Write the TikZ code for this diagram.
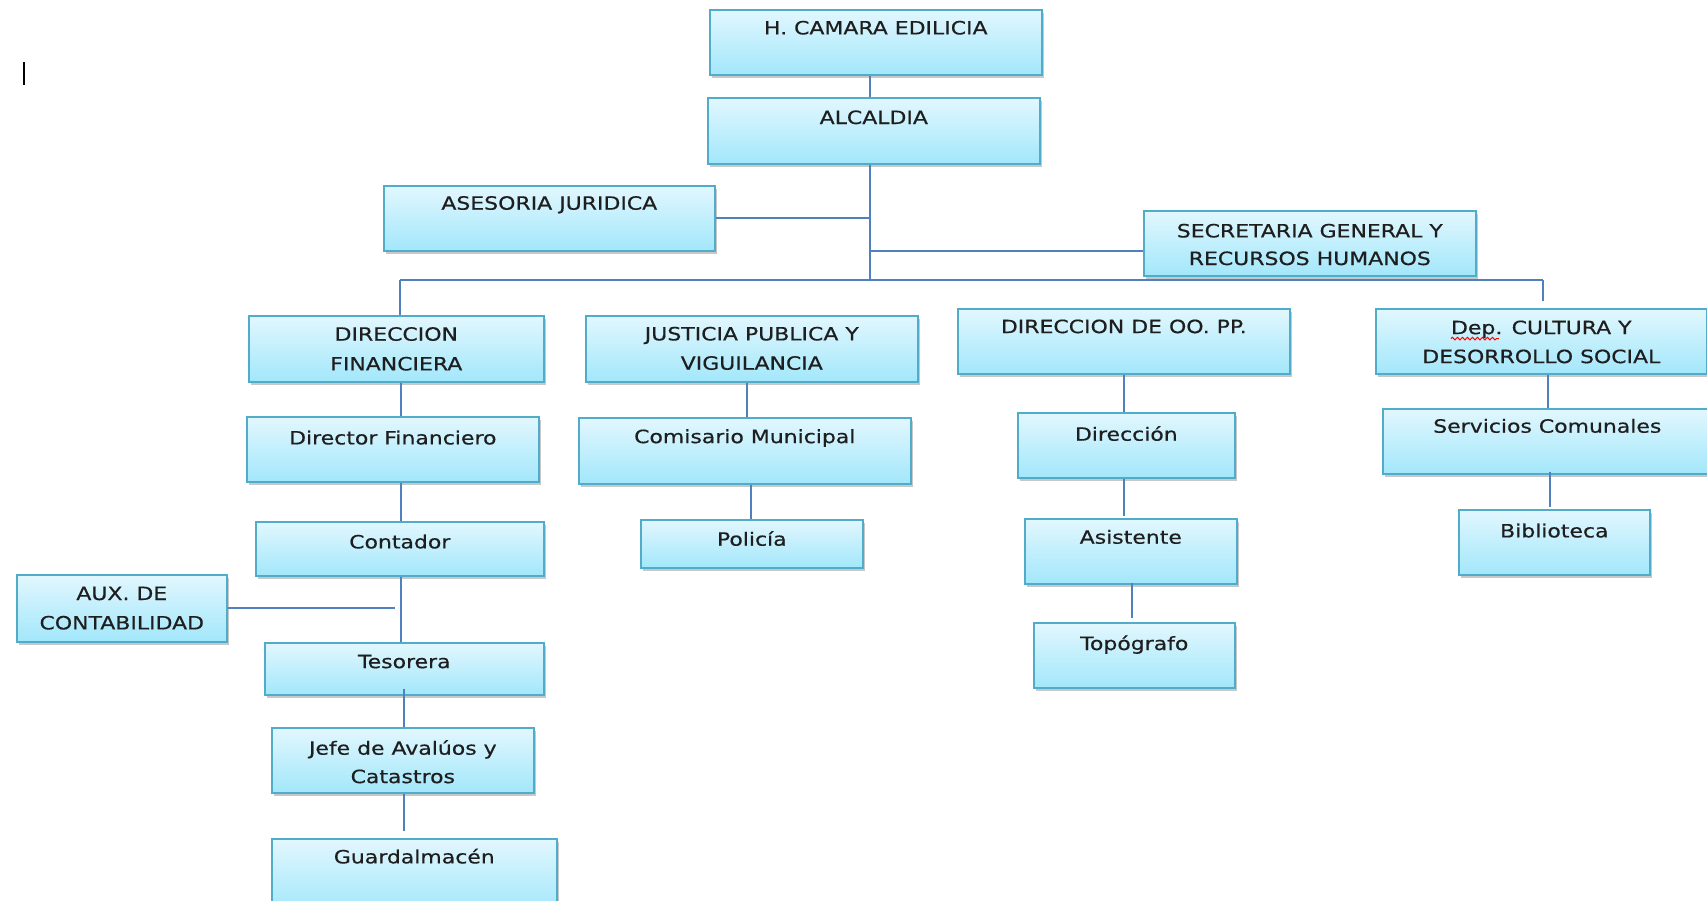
\documentclass[tikz,border=0pt]{standalone}
\usepackage{fontspec}
\setmainfont{DejaVu Sans}[FakeStretch=1.2,FakeBold=0.5]
\usetikzlibrary{shadows,decorations.pathmorphing,calc}
\definecolor{boxtop}{RGB}{226,247,254}
\definecolor{boxbot}{RGB}{162,231,251}
\definecolor{boxline}{RGB}{80,172,200}
\definecolor{conn}{RGB}{79,129,189}
\definecolor{txtc}{RGB}{30,30,30}
\tikzset{
  orgbox/.style={draw=boxline, line width=1.6pt, top color=boxtop, bottom color=boxbot,
    inner sep=0pt, drop shadow={shadow xshift=2pt, shadow yshift=-3pt, opacity=0.3, fill=black!70}},
  lbl/.style={anchor=base, text=txtc, font=\fontsize{18.3}{30}\selectfont, inner sep=0pt},
  link/.style={draw=conn, line width=2pt},
  squig/.style={draw=red, line width=1pt, decorate, decoration={snake, segment length=5pt, amplitude=1.3pt}},
}
% name, x1, y1, x2, y2, baseline offset, text
\newcommand\OB[7]{%
  \node[orgbox, anchor=north west, minimum width={#4-#2}, minimum height={#5-#3}] (#1) at (#2,#3) {};
  \node[lbl] (#1-t) at ([yshift=-#6pt]#1.north) {#7};}
% name, x1, y1, x2, y2, offset1, text1, offset2, text2
\newcommand\OBB[9]{%
  \node[orgbox, anchor=north west, minimum width={#4-#2}, minimum height={#5-#3}] (#1) at (#2,#3) {};
  \node[lbl] (#1-t1) at ([yshift=-#6pt]#1.north) {#7};
  \node[lbl] (#1-t2) at ([yshift=-#8pt]#1.north) {#9};}
\begin{document}
\begin{tikzpicture}[x=1pt,y=-1pt]
\fill[white] (0,0) rectangle (1707,900);
\useasboundingbox (0,0) rectangle (1707,900);

% text cursor mark
\draw[black, line width=2.5pt] (24,62) -- (24,85);

% boxes
\OB{hcam}{709}{9}{1041}{74}{25.4}{H. CAMARA EDILICIA}
\OB{alc}{707}{97}{1039}{163}{27}{ALCALDIA}
\OB{ases}{383}{185}{714}{250}{24.7}{ASESORIA JURIDICA}
\OBB{sec}{1143}{210}{1475}{275}{27.4}{SECRETARIA GENERAL Y}{55}{RECURSOS HUMANOS}
\OBB{dirfin}{248}{315}{543}{381}{25.7}{DIRECCION}{55.4}{FINANCIERA}
\OBB{just}{585}{315}{917}{381}{25.4}{JUSTICIA PUBLICA Y}{54.7}{VIGUILANCIA}
\OB{oopp}{957}{308}{1289}{373}{25.1}{DIRECCION DE OO. PP.}
\OBB{dep}{1375}{308}{1706}{373}{26.1}{Dep. CULTURA Y}{55.1}{DESORROLLO SOCIAL}
\OB{dirfin2}{246}{416}{538}{481}{28.4}{Director Financiero}
\OB{com}{578}{417}{910}{483}{26.1}{Comisario Municipal}
\OB{dirc}{1017}{412}{1234}{477}{28.7}{Dirección}
\OB{serv}{1382}{408}{1711}{473}{24.7}{Servicios Comunales}
\OB{contador}{255}{521}{543}{575}{27.4}{Contador}
\OB{pol}{640}{519}{862}{567}{26.7}{Policía}
\OB{asis}{1024}{518}{1236}{583}{25.7}{Asistente}
\OB{bib}{1458}{509}{1649}{574}{28.4}{Biblioteca}
\OBB{aux}{16}{574}{226}{641}{26}{AUX. DE}{55.4}{CONTABILIDAD}
\OB{tes}{264}{642}{543}{694}{26.1}{Tesorera}
\OB{topo}{1033}{622}{1234}{687}{28}{Topógrafo}
\OBB{jefe}{271}{727}{533}{792}{27.7}{Jefe de Avalúos y}{56.1}{Catastros}
\OB{guard}{271}{838}{556}{912}{25.4}{Guardalmacén}

% spell-check squiggle under "Dep."
\draw[squig] ([yshift=-4.5pt]dep-t1.base west) -- ++(48,0);

% helper coordinates
\coordinate (trunk) at (870,280);
\coordinate (busL) at (400,280);
\coordinate (busR) at (1543,280);
\coordinate (stub) at (1543,301);
\coordinate (secjoin) at ([yshift=-7.5pt]sec.west);
\coordinate (auxx) at (395,0);
\coordinate (xF) at (401,0);
\coordinate (xFb) at (404,0);
\coordinate (xJ1) at (747,0);
\coordinate (xJ2) at (751,0);
\coordinate (xO1) at (1124,0);
\coordinate (xO2) at (1132,0);
\coordinate (xD1) at (1548,0);
\coordinate (xD2) at (1550,0);

% connectors
\draw[link] (hcam.south -| trunk) -- (alc.north -| trunk);
\draw[link] (alc.south -| trunk) -- (trunk);
\draw[link] (ases.east) -- (ases.east -| trunk);
\draw[link] (secjoin) -- (secjoin -| trunk);
\draw[link] (busL) -- (busR);
\draw[link] (busL) -- (dirfin.north -| busL);
\draw[link] (busR) -- (stub);

\draw[link] (dirfin.south -| xF) -- (dirfin2.north -| xF);
\draw[link] (dirfin2.south -| xF) -- (contador.north -| xF);
\draw[link] (contador.south -| xF) -- (tes.north -| xF);
\draw[link] (aux.east) -- (aux.east -| auxx);
\draw[link] ($(tes.south -| xFb)+(0,-7)$) -- (jefe.north -| xFb);
\draw[link] (jefe.south -| xFb) -- ($(guard.north -| xFb)+(0,-7)$);

\draw[link] (just.south -| xJ1) -- (com.north -| xJ1);
\draw[link] (com.south -| xJ2) -- (pol.north -| xJ2);

\draw[link] (oopp.south -| xO1) -- (dirc.north -| xO1);
\draw[link] (dirc.south -| xO1) -- ($(asis.north -| xO1)+(0,-2)$);
\draw[link] ($(asis.south -| xO2)+(0,-2)$) -- ($(topo.north -| xO2)+(0,-4)$);

\draw[link] (dep.south -| xD1) -- (serv.north -| xD1);
\draw[link] ($(serv.south -| xD2)+(0,-3)$) -- ($(bib.north -| xD2)+(0,-2)$);
\end{tikzpicture}
\end{document}
